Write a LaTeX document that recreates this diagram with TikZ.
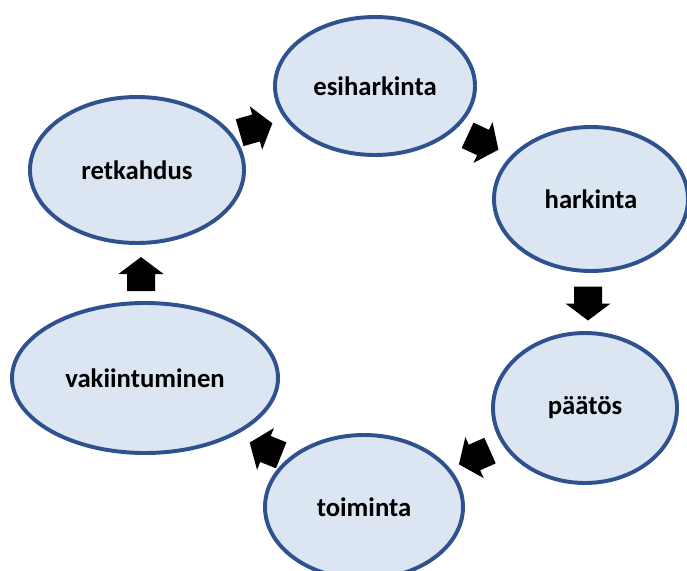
\documentclass[tikz,border=0pt]{standalone}
\usepackage{fontspec}
\setmainfont{Carlito}
\usetikzlibrary{shapes.geometric,calc}

\definecolor{ringline}{RGB}{47,82,143}
\definecolor{ringfill}{RGB}{220,230,242}

\tikzset{
    phase/.style={ellipse, draw=ringline, fill=ringfill, line width=2.8pt,
        inner sep=0pt, font=\fontsize{19}{22}\selectfont\bfseries},
    blockarrow/.pic={
        \fill[black] (-0.425,-0.35) -- (0,-0.35) -- (0,-0.5625) -- (0.425,0)
            -- (0,0.5625) -- (0,0.35) -- (-0.425,0.35) -- cycle;
    }
}

\begin{document}
\begin{tikzpicture}
            \clip (0,0) rectangle (17.175,14.25);
            \useasboundingbox (0,0) rectangle (17.175,14.25);

            \node[phase, minimum width=5.0cm, minimum height=3.45cm] (esiharkinta) at (9.375, 12.1) {esiharkinta};
            \node[phase, minimum width=4.85cm, minimum height=3.6cm] (harkinta) at (14.775, 9.275) {harkinta};
            \node[phase, minimum width=4.6cm, minimum height=3.75cm] (paatos) at (14.625, 4.05) {päätös};
            \node[phase, minimum width=4.95cm, minimum height=3.6cm] (toiminta) at (9.1, 1.575) {toiminta};
            \node[phase, minimum width=6.65cm, minimum height=3.75cm] (vakiintuminen) at (3.625, 4.8) {vakiintuminen};
            \node[phase, minimum width=5.35cm, minimum height=3.65cm] (retkahdus) at (3.425, 10.0) {retkahdus};

            \path ($(retkahdus)!0.5!(esiharkinta)$) pic[rotate=16] {blockarrow};
            \path ($(esiharkinta)!0.5!(harkinta)$) pic[rotate=-25] {blockarrow};
            \path ($(harkinta)!0.5!(paatos)$) pic[rotate=-90] {blockarrow};
            \path ($(paatos)!0.5!(toiminta)$) pic[rotate=204] {blockarrow};
            \path ($(toiminta)!0.45!(vakiintuminen)$) pic[rotate=158] {blockarrow};
            \path ($(vakiintuminen)!0.5!(retkahdus)$) pic[rotate=90] {blockarrow};
        \end{tikzpicture}
\end{document}
